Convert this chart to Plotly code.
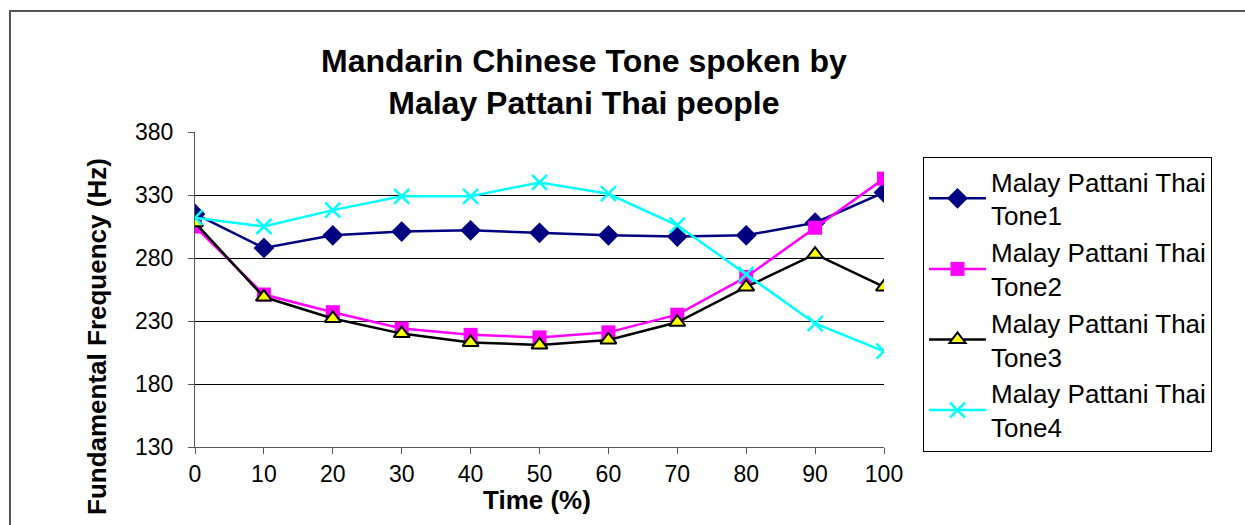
import plotly.graph_objects as go

# Time points (% of syllable duration)
time_pct = [0, 10, 20, 30, 40, 50, 60, 70, 80, 90, 100]

# Fundamental frequency (Hz) per tone
tone1 = [315, 288, 298, 301, 302, 300, 298, 297, 298, 308, 332]
tone2 = [305, 251, 237, 224, 219, 217, 221, 235, 265, 304, 343]
tone3 = [308, 249, 232, 220, 213, 211, 215, 229, 257, 283, 257]
tone4 = [312, 305, 318, 329, 329, 340, 331, 306, 267, 228, 206]

series_names = [
    "Malay Pattani Thai<br>Tone1",
    "Malay Pattani Thai<br>Tone2",
    "Malay Pattani Thai<br>Tone3",
    "Malay Pattani Thai<br>Tone4",
]
y_ticks = [130, 180, 230, 280, 330, 380]

FONT = "Liberation Sans, Arial, sans-serif"

W, H = 1245, 525
L, R, T, B = 195, 884, 132, 447  # plot area in pixels


def px_x(px):
    return (px - L) / (R - L)


def px_y(py):
    return (B - py) / (B - T)


fig = go.Figure()

styles = [
    dict(line=dict(color="#000080", width=2.5),
         marker=dict(symbol="diamond", size=16, color="#000080")),
    dict(line=dict(color="#FF00FF", width=2.5),
         marker=dict(symbol="square", size=14, color="#FF00FF")),
    dict(line=dict(color="#000000", width=2.5),
         marker=dict(symbol="triangle-up", size=14, color="#FFFF00",
                     line=dict(color="#000000", width=2))),
    dict(line=dict(color="#00FFFF", width=2.5),
         marker=dict(symbol="x-thin", size=15, color="#00FFFF",
                     line=dict(color="#00FFFF", width=2.5))),
]

for name, vals, st in zip(series_names, [tone1, tone2, tone3, tone4], styles):
    fig.add_trace(go.Scatter(x=time_pct, y=vals, mode="lines+markers",
                             name=name, line=st["line"], marker=st["marker"]))

fig.update_layout(
    width=W, height=H,
    margin=dict(l=L, r=W - R, t=T, b=H - B),
    paper_bgcolor="white", plot_bgcolor="white",
    font=dict(family=FONT, color="black"),
    showlegend=True,
    legend=dict(
        x=px_x(923), y=px_y(157), xanchor="left", yanchor="top",
        bordercolor="black", borderwidth=1, bgcolor="white",
        font=dict(size=26, family=FONT, color="black"),
        itemwidth=57, tracegroupgap=0,
    ),
    xaxis=dict(
        range=[0, 100], tickvals=time_pct, ticktext=[str(t) for t in time_pct],
        showgrid=False, zeroline=False,
        showline=True, linecolor="#555555", linewidth=1,
        ticks="outside", ticklen=6, tickcolor="#555555",
        tickfont=dict(size=23, family=FONT, color="black"),
    ),
    yaxis=dict(
        range=[130, 380], tickvals=y_ticks,
        showgrid=True, gridcolor="black", gridwidth=1,
        zeroline=False,
        showline=True, linecolor="#555555", linewidth=1,
        ticks="outside", ticklen=6, tickcolor="#555555",
        ticklabelstandoff=10,
        tickfont=dict(size=23, family=FONT, color="black"),
    ),
    shapes=[
        # outer chart frame
        dict(type="rect", xref="paper", yref="paper",
             x0=px_x(10), x1=px_x(1300), y0=px_y(600), y1=px_y(11),
             line=dict(color="#555555", width=2), layer="below"),
    ],
    annotations=[
        dict(text="<b>Mandarin Chinese Tone spoken by<br>Malay Pattani Thai people</b>",
             xref="paper", yref="paper", x=px_x(584), y=px_y(82),
             xanchor="center", yanchor="middle", showarrow=False,
             font=dict(size=32, family=FONT, color="black")),
        dict(text="<b>Time (%)</b>", xref="paper", yref="paper",
             x=px_x(537), y=px_y(500), xanchor="center", yanchor="middle",
             showarrow=False, font=dict(size=26, family=FONT, color="black")),
        dict(text="<b>Fundamental Frequency (Hz)</b>", xref="paper", yref="paper",
             x=px_x(97), y=px_y(337), xanchor="center", yanchor="middle",
             textangle=-90, showarrow=False,
             font=dict(size=26, family=FONT, color="black")),
    ],
)

fig.write_html("out.html")
